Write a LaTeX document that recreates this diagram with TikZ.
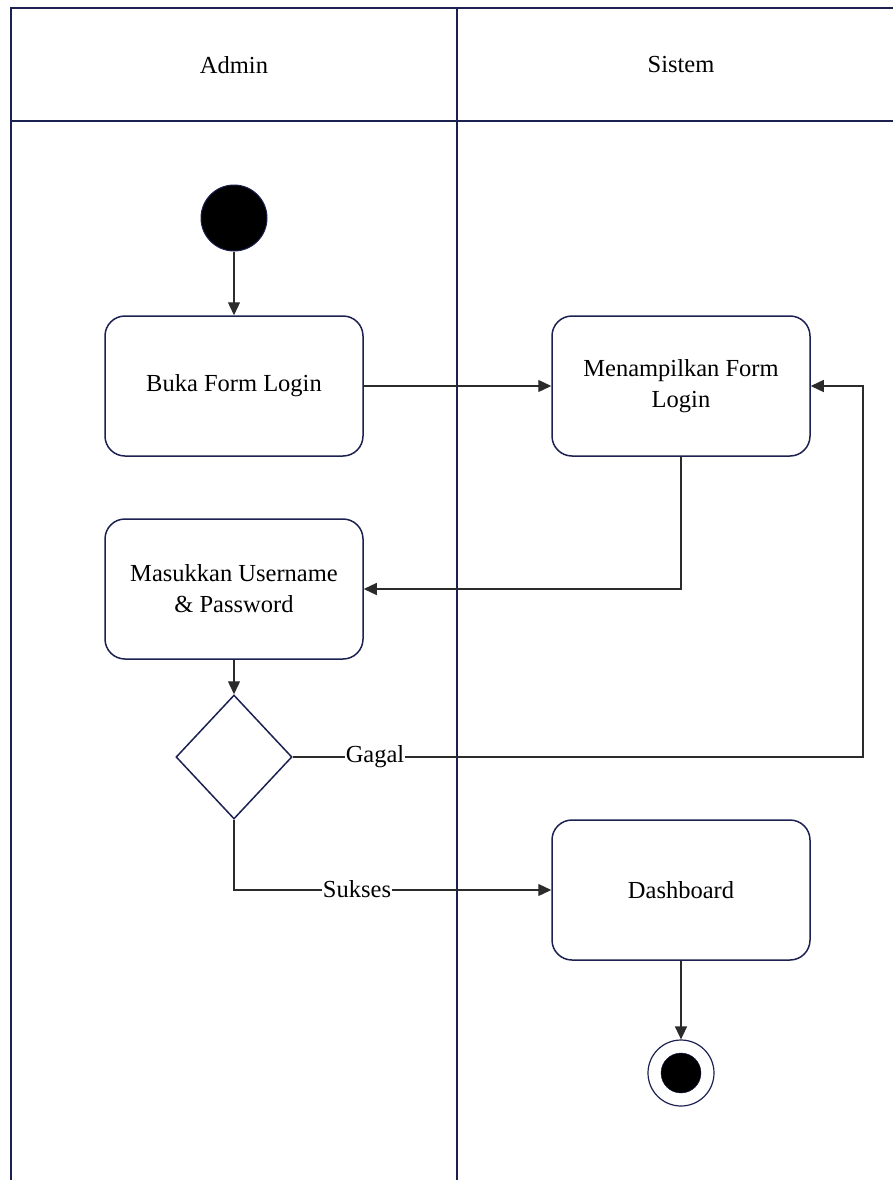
\documentclass[tikz,border=0pt]{standalone}
\usepackage{fontspec}
\setmainfont{Liberation Serif}
\usetikzlibrary{shapes.geometric, arrows.meta, positioning}

\definecolor{navy}{HTML}{1B2150}
\definecolor{linegray}{HTML}{2B2B2B}

\begin{document}
\begin{tikzpicture}[x=1pt, y=-1pt, font=\fontsize{24.5}{31}\selectfont,
  lane/.style={draw=navy, line width=1.6pt},
  activity/.style={draw=navy, line width=1.5pt, rounded corners=20pt, minimum width=258pt, minimum height=140pt, align=center, fill=white},
  decision/.style={draw=navy, line width=1.5pt, diamond, minimum width=116pt, minimum height=124pt, inner sep=0pt},
  flow/.style={draw=linegray, line width=1.3pt, -{Triangle[length=13pt,width=12pt]}},
  guard/.style={fill=white, inner sep=1pt}]
\useasboundingbox (0,0) rectangle (893,1180);

% swimlanes
\draw[lane] (11,1180) -- (11,8) -- (893,8);
\draw[lane] (11,121) -- (893,121);
\draw[lane] (457,8) -- (457,1180);
\node (admin) at (234,65) {Admin};
\node (sistem) at (681,65) {Sistem};

% activities
\node[circle, fill=black, draw=navy, line width=1pt, minimum size=66pt] (start) at (234,218) {};
\node[activity] (buka) at (234,386) {Buka Form Login};
\node[activity] (tampil) at (681,386) {Menampilkan Form\\Login};
\node[activity] (masuk) at (234,589) {Masukkan Username\\\& Password};
\node[decision] (cek) at (234,757) {};
\node[activity] (dash) at (681,890) {Dashboard};
\node[circle, draw=navy, line width=1.2pt, minimum size=66pt] (stop) at (681,1073) {};
\node[circle, fill=black, draw=navy, minimum size=40pt] (stopdot) at (stop) {};
\coordinate (balik) at (863,757);

% flows
\draw[flow] (start) -- (buka);
\draw[flow] (buka) -- (tampil);
\draw[flow] (tampil.south) |- (masuk.east);
\draw[flow] (masuk) -- (cek);
\draw[flow] (cek.east) -- (balik) |- (tampil.east);
\draw[flow] (cek.south) |- (dash.west);
\draw[flow] (dash) -- (stop);
\node[guard] (gagal) at (375,757) {Gagal};
\node[guard] (sukses) at (357,889) {Sukses};
\end{tikzpicture}
\end{document}
